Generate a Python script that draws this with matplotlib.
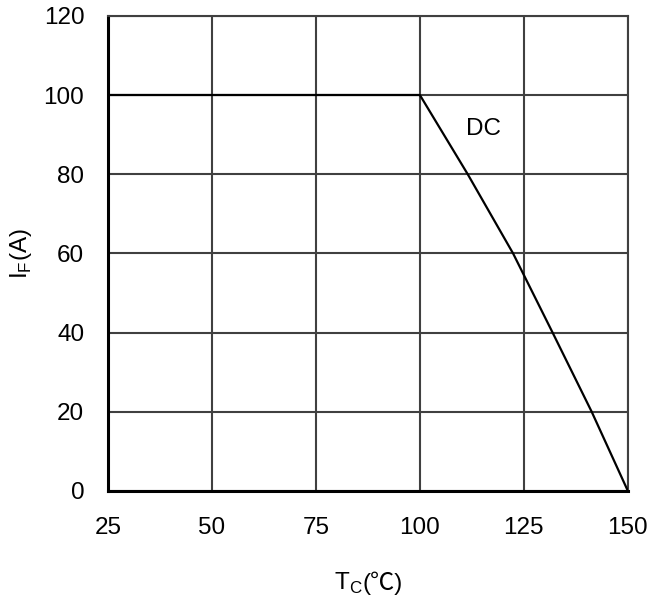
import matplotlib.pyplot as plt

# derating curve
tc = [25, 100, 111.5, 122.4, 131.9, 141.3, 150]
i_f = [100, 100, 80, 60, 40, 20, 0]

x_ticks = [25, 50, 75, 100, 125, 150]
y_ticks = [0, 20, 40, 60, 80, 100, 120]

plt.rcParams['font.family'] = ['Liberation Sans', 'Noto Sans CJK SC', 'DejaVu Sans']
plt.rcParams['mathtext.fontset'] = 'custom'
plt.rcParams['mathtext.rm'] = 'Liberation Sans'

fs = 17.5
fig = plt.figure(figsize=(6.54, 6.09), dpi=100)
ax = fig.add_axes([0.165, 0.194, 0.795, 0.780])

ax.plot(tc, i_f, color='black', lw=1.6, zorder=3)
ax.text(115.4, 91.4, 'DC', fontsize=fs, ha='center', va='center')

ax.set_xlim(25, 150)
ax.set_ylim(0, 120)
ax.set_xticks(x_ticks)
ax.set_yticks(y_ticks)
ax.grid(True, color='#404040', lw=1.5)
ax.tick_params(length=0, labelsize=fs)
ax.tick_params(axis='x', pad=19)
ax.tick_params(axis='y', pad=17)

for side in ['top', 'right']:
    ax.spines[side].set_color('#404040')
    ax.spines[side].set_linewidth(1.5)
for side in ['bottom', 'left']:
    ax.spines[side].set_color('black')
    ax.spines[side].set_linewidth(2.2)

ax.set_ylabel(r'I$_\mathregular{F}$(A)', fontsize=fs, labelpad=7)

# x label in two pieces so that the degree sign comes from a CJK font
W, H = fig.get_size_inches() * fig.dpi
base_y = 1 - 590 / H
t1 = fig.text(0, base_y, r'T$_\mathregular{C}$', fontsize=fs, ha='left', va='baseline')
t2 = fig.text(0, base_y, '(℃)', fontsize=fs, ha='left', va='baseline')
fig.canvas.draw()
r = fig.canvas.get_renderer()
w1 = t1.get_window_extent(r).width
w2 = t2.get_window_extent(r).width
x0 = 368 - (w1 + w2) / 2
t1.set_x(x0 / W)
t2.set_x((x0 + w1) / W)

fig.savefig('out.png', dpi=100)
